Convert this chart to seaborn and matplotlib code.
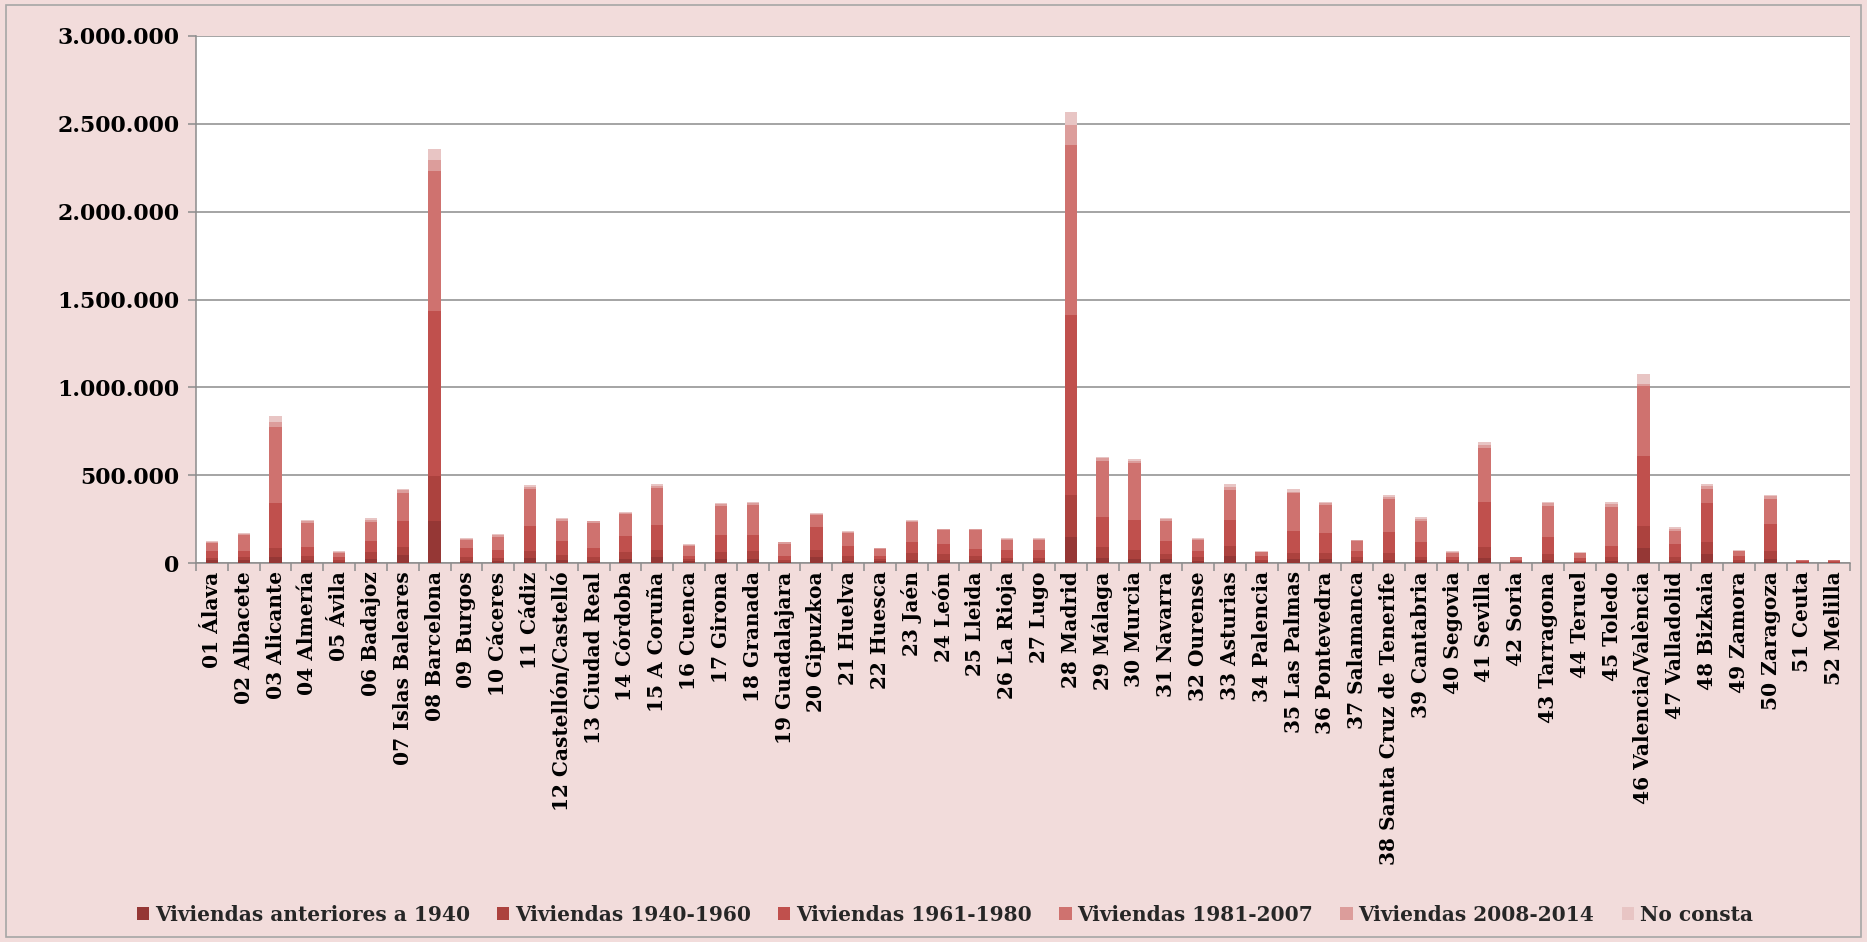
import matplotlib
matplotlib.use("Agg")
import matplotlib.pyplot as plt
from matplotlib.patches import Patch, Rectangle
from matplotlib.ticker import FuncFormatter, FixedLocator
import numpy as np
import pandas as pd
import seaborn as sns

provincias = [
    "01 Álava", "02 Albacete", "03 Alicante", "04 Almería", "05 Ávila", "06 Badajoz",
    "07 Islas Baleares", "08 Barcelona", "09 Burgos", "10 Cáceres", "11 Cádiz",
    "12 Castellón/Castelló", "13 Ciudad Real", "14 Córdoba", "15 A Coruña", "16 Cuenca",
    "17 Girona", "18 Granada", "19 Guadalajara", "20 Gipuzkoa", "21 Huelva", "22 Huesca",
    "23 Jaén", "24 León", "25 Lleida", "26 La Rioja", "27 Lugo", "28 Madrid", "29 Málaga",
    "30 Murcia", "31 Navarra", "32 Ourense", "33 Asturias", "34 Palencia", "35 Las Palmas",
    "36 Pontevedra", "37 Salamanca", "38 Santa Cruz de Tenerife", "39 Cantabria",
    "40 Segovia", "41 Sevilla", "42 Soria", "43 Tarragona", "44 Teruel", "45 Toledo",
    "46 Valencia/València", "47 Valladolid", "48 Bizkaia", "49 Zamora", "50 Zaragoza",
    "51 Ceuta", "52 Melilla",
]

# Viviendas por periodo de construcción (miles)
anteriores_1940 = [15, 15, 34, 19, 6, 24, 43, 241, 12, 12, 28, 15, 12, 22, 34, 10, 25, 25,
                   8, 34, 12, 12, 18, 18, 15, 10, 12, 148, 30, 25, 23, 12, 42, 6, 23, 22,
                   12, 18, 15, 6, 28, 4, 18, 6, 12, 85, 12, 51, 8, 23, 3, 2]
v_1940_1960 = [15, 19, 51, 19, 9, 38, 51, 254, 22, 18, 43, 28, 22, 40, 41, 12, 35, 45,
               10, 40, 26, 13, 37, 32, 23, 18, 18, 239, 60, 50, 28, 20, 56, 9, 32, 35,
               20, 37, 17, 9, 65, 6, 32, 8, 20, 127, 20, 70, 12, 47, 3, 3]
v_1961_1980 = [41, 37, 258, 56, 19, 62, 147, 939, 51, 47, 141, 81, 51, 90, 143, 18, 102, 92,
               22, 129, 57, 15, 67, 58, 43, 46, 44, 1025, 174, 169, 76, 34, 148, 23, 125, 112,
               38, 119, 89, 17, 252, 8, 100, 14, 66, 398, 76, 218, 18, 152, 6, 6]
v_1981_2007 = [44, 89, 433, 136, 24, 112, 159, 799, 48, 73, 207, 116, 145, 126, 207, 58, 163, 168,
               70, 68, 77, 42, 110, 78, 105, 59, 59, 967, 317, 326, 111, 65, 169, 22, 216, 161,
               55, 193, 119, 26, 308, 14, 176, 27, 222, 398, 76, 81, 28, 145, 4, 5]
v_2008_2014 = [7, 7, 28, 10, 6, 11, 13, 61, 6, 8, 16, 10, 7, 8, 15, 6, 11, 12,
               7, 8, 7, 4, 8, 6, 6, 6, 6, 114, 15, 13, 10, 7, 19, 4, 11, 13,
               5, 10, 10, 5, 19, 3, 14, 4, 15, 13, 9, 18, 5, 13, 1, 1]
no_consta = [6, 6, 34, 6, 4, 9, 9, 63, 4, 6, 10, 6, 4, 5, 10, 4, 7, 7,
             5, 6, 4, 2, 4, 4, 4, 3, 3, 76, 9, 7, 6, 4, 15, 2, 13, 7,
             3, 11, 13, 3, 19, 1, 10, 2, 10, 53, 10, 11, 3, 8, 1, 1]

series = [
    ("Viviendas anteriores a 1940", anteriores_1940, "#953735"),
    ("Viviendas 1940-1960", v_1940_1960, "#AC423E"),
    ("Viviendas 1961-1980", v_1961_1980, "#C0504D"),
    ("Viviendas 1981-2007", v_1981_2007, "#CF726F"),
    ("Viviendas 2008-2014", v_2008_2014, "#DC9D9B"),
    ("No consta", no_consta, "#E8C5C4"),
]

df = pd.DataFrame({name: np.array(vals) * 1000 for name, vals, _ in series})
df.insert(0, "provincia", provincias)
names = [s[0] for s in series]
cum = df[names].cumsum(axis=1)

BG = "#F2DCDB"
GRID = "#8C8C8C"

sns.set_theme(style="white")
plt.rcParams["font.family"] = ["DejaVu Serif"]
plt.rcParams["font.weight"] = "bold"

fig = plt.figure(figsize=(18.67, 9.42), dpi=100, facecolor=BG)
ax = fig.add_axes([0.105, 0.4023, 0.886, 0.5595])
ax.set_facecolor("white")

# Stacked bars: draw cumulative totals from the top layer down
for name, _, color in reversed(series):
    sns.barplot(x=df["provincia"], y=cum[name], order=provincias, color=color,
                saturation=1, width=0.39, linewidth=0, ax=ax, zorder=3)

ax.set_xlim(-0.5, len(provincias) - 0.5)
ax.set_ylim(0, 3_000_000)
ax.set_yticks(np.arange(0, 3_000_001, 500_000))
ax.yaxis.set_major_formatter(FuncFormatter(lambda v, p: f"{v:,.0f}".replace(",", ".")))
ax.grid(axis="y", color=GRID, linewidth=1.1, zorder=0)
ax.set_axisbelow(True)
ax.set_xlabel("")
ax.set_ylabel("")

for side in ("top", "right"):
    ax.spines[side].set_visible(False)
for side in ("left", "bottom"):
    ax.spines[side].set_color(GRID)
    ax.spines[side].set_linewidth(1.1)

ax.tick_params(axis="y", which="major", length=6, width=1.1, color=GRID, direction="out",
               labelsize=15.8, pad=6, left=True)
ax.tick_params(axis="x", which="major", length=0, labelsize=14.5, pad=6, rotation=90)
ax.xaxis.set_minor_locator(FixedLocator(np.arange(-0.5, len(provincias), 1.0)))
ax.tick_params(axis="x", which="minor", length=6, width=1.1, color=GRID, direction="out", bottom=True)
for lbl in ax.get_xticklabels() + ax.get_yticklabels():
    lbl.set_fontweight("bold")
    lbl.set_color("black")

handles = [Patch(facecolor=c, edgecolor="none", label=n) for n, _, c in series]
fig.legend(handles=handles, loc="center", bbox_to_anchor=(0.506, 0.029), ncol=6,
           frameon=False, handlelength=0.6, handleheight=0.6,
           handletextpad=0.3, columnspacing=1.35, prop={"weight": "bold", "size": 14.5})

fig.patches.append(Rectangle((0.003, 0.005), 0.994, 0.99, transform=fig.transFigure,
                             fill=False, edgecolor="#A6A6A6", linewidth=1.2))

fig.savefig("out.png", dpi=100, facecolor=BG)
